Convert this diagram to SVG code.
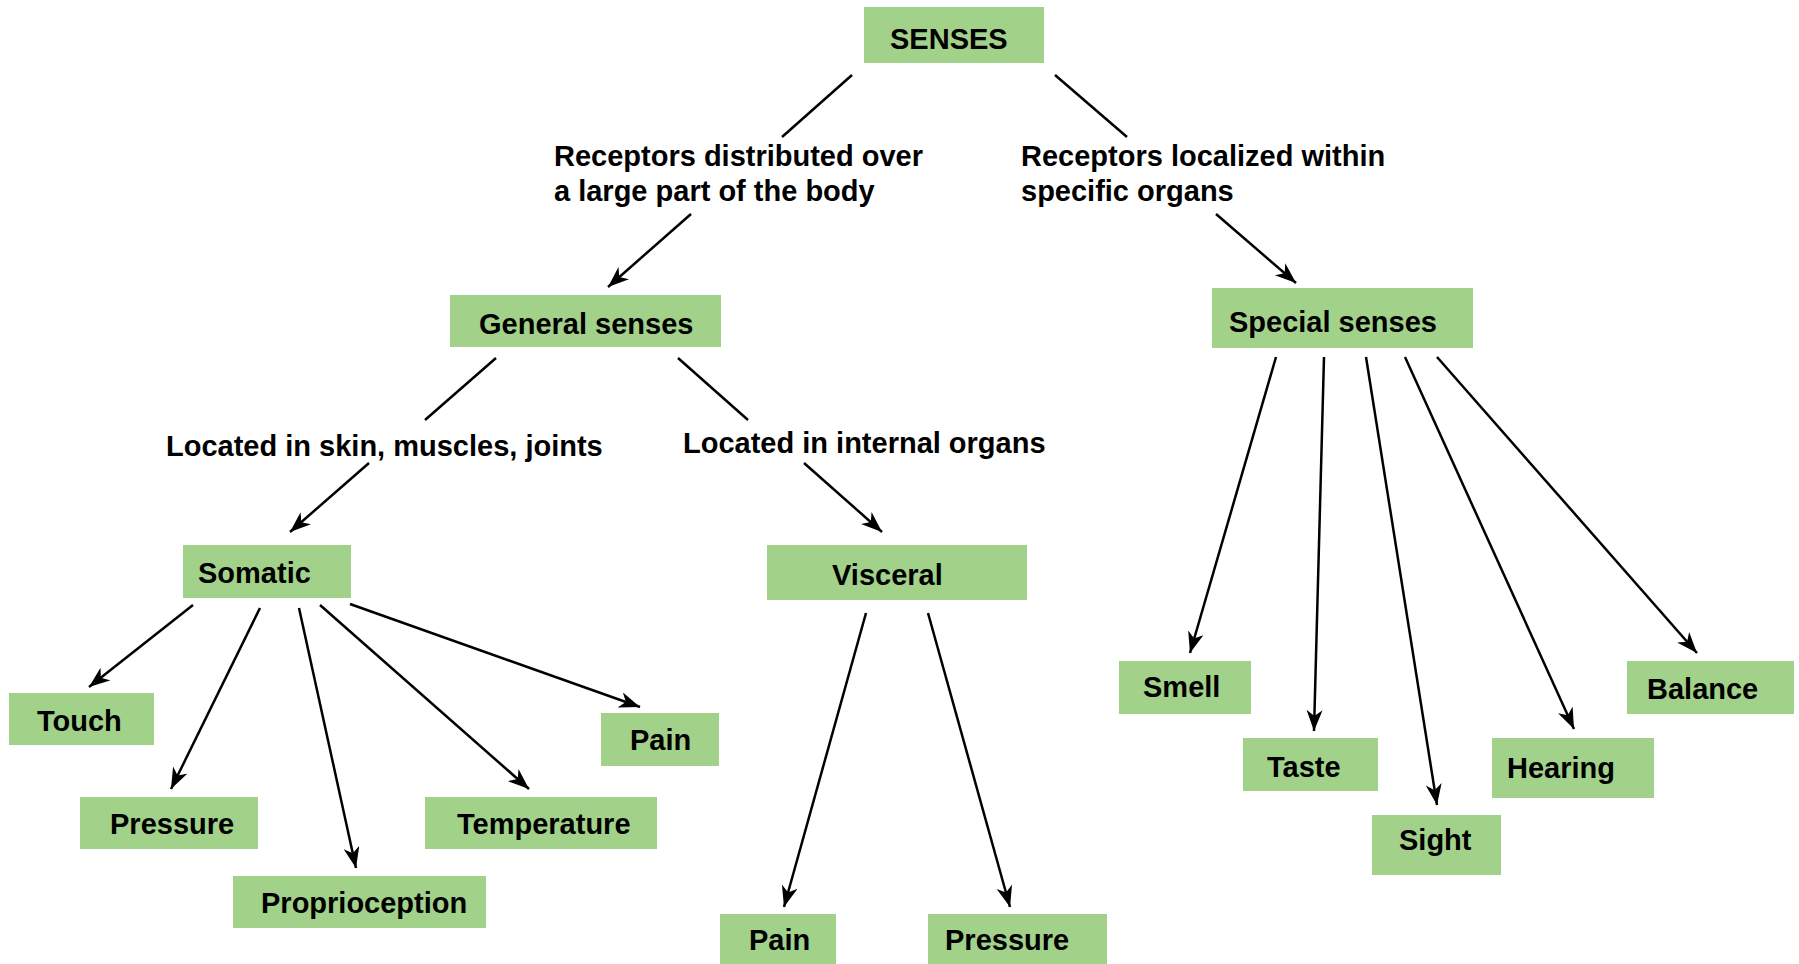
<svg xmlns="http://www.w3.org/2000/svg" width="1799" height="964" viewBox="0 0 1799 964">
<style>
.box{fill:#A2D18A}
text{font-family:"Liberation Sans",Arial,sans-serif;font-weight:bold;font-size:29px;fill:#000}
.c line{stroke:#000;stroke-width:2.5}
.a{marker-end:url(#ah)}
</style>
<defs>
<marker id="ah" markerUnits="userSpaceOnUse" markerWidth="24" markerHeight="18" refX="21" refY="8" orient="auto">
<path d="M0,0 L21,8 L0,16 L6,8 Z" fill="#000"/>
</marker>
</defs>
<rect width="1799" height="964" fill="#fff"/>
<g id="senses"><rect class="box" x="864" y="7" width="180" height="56"/><text x="890" y="49">SENSES</text></g>
<g id="label-distributed"><text x="554" y="166">Receptors distributed over</text><text x="554" y="201">a large part of the body</text></g>
<g id="label-localized"><text x="1021" y="166">Receptors localized within</text><text x="1021" y="201">specific organs</text></g>
<g id="general"><rect class="box" x="450" y="295" width="271" height="52"/><text x="479" y="334">General senses</text></g>
<g id="special"><rect class="box" x="1212" y="288" width="261" height="60"/><text x="1229" y="332">Special senses</text></g>
<g id="label-skin"><text x="166" y="456">Located in skin, muscles, joints</text></g>
<g id="label-internal"><text x="683" y="453">Located in internal organs</text></g>
<g id="somatic"><rect class="box" x="183" y="545" width="168" height="53"/><text x="198" y="583">Somatic</text></g>
<g id="visceral"><rect class="box" x="767" y="545" width="260" height="55"/><text x="832" y="585">Visceral</text></g>
<g id="touch"><rect class="box" x="9" y="693" width="145" height="52"/><text x="37" y="731">Touch</text></g>
<g id="pressure-s"><rect class="box" x="80" y="797" width="178" height="52"/><text x="110" y="834">Pressure</text></g>
<g id="proprioception"><rect class="box" x="233" y="876" width="253" height="52"/><text x="261" y="913">Proprioception</text></g>
<g id="temperature"><rect class="box" x="425" y="797" width="232" height="52"/><text x="457" y="834">Temperature</text></g>
<g id="pain-s"><rect class="box" x="601" y="713" width="118" height="53"/><text x="630" y="750">Pain</text></g>
<g id="pain-v"><rect class="box" x="720" y="914" width="116" height="50"/><text x="749" y="950">Pain</text></g>
<g id="pressure-v"><rect class="box" x="928" y="914" width="179" height="50"/><text x="945" y="950">Pressure</text></g>
<g id="smell"><rect class="box" x="1119" y="661" width="132" height="53"/><text x="1143" y="697">Smell</text></g>
<g id="taste"><rect class="box" x="1243" y="738" width="135" height="53"/><text x="1267" y="777">Taste</text></g>
<g id="sight"><rect class="box" x="1372" y="815" width="129" height="60"/><text x="1399" y="850">Sight</text></g>
<g id="hearing"><rect class="box" x="1492" y="738" width="162" height="60"/><text x="1507" y="778">Hearing</text></g>
<g id="balance"><rect class="box" x="1627" y="661" width="167" height="53"/><text x="1647" y="699">Balance</text></g>
<g id="connectors" class="c">
<line x1="852" y1="75" x2="782" y2="137"/>
<line class="a" x1="691" y1="214" x2="608" y2="287"/>
<line x1="1055" y1="75" x2="1127" y2="137"/>
<line class="a" x1="1216" y1="214" x2="1296" y2="283"/>
<line x1="496" y1="358" x2="425" y2="420"/>
<line x1="678" y1="358" x2="748" y2="420"/>
<line class="a" x1="369" y1="463" x2="290" y2="532"/>
<line class="a" x1="804" y1="463" x2="882" y2="532"/>
<line class="a" x1="193" y1="605" x2="89" y2="687"/>
<line class="a" x1="260" y1="608" x2="171" y2="789"/>
<line class="a" x1="299" y1="608" x2="356" y2="868"/>
<line class="a" x1="320" y1="605" x2="529" y2="789"/>
<line class="a" x1="350" y1="604" x2="640" y2="707"/>
<line class="a" x1="866" y1="613" x2="784" y2="907"/>
<line class="a" x1="928" y1="613" x2="1010" y2="907"/>
<line class="a" x1="1276" y1="357" x2="1190" y2="653"/>
<line class="a" x1="1324" y1="357" x2="1314" y2="731"/>
<line class="a" x1="1366" y1="357" x2="1437" y2="805"/>
<line class="a" x1="1405" y1="357" x2="1574" y2="729"/>
<line class="a" x1="1437" y1="357" x2="1697" y2="653"/>
</g>
</svg>
